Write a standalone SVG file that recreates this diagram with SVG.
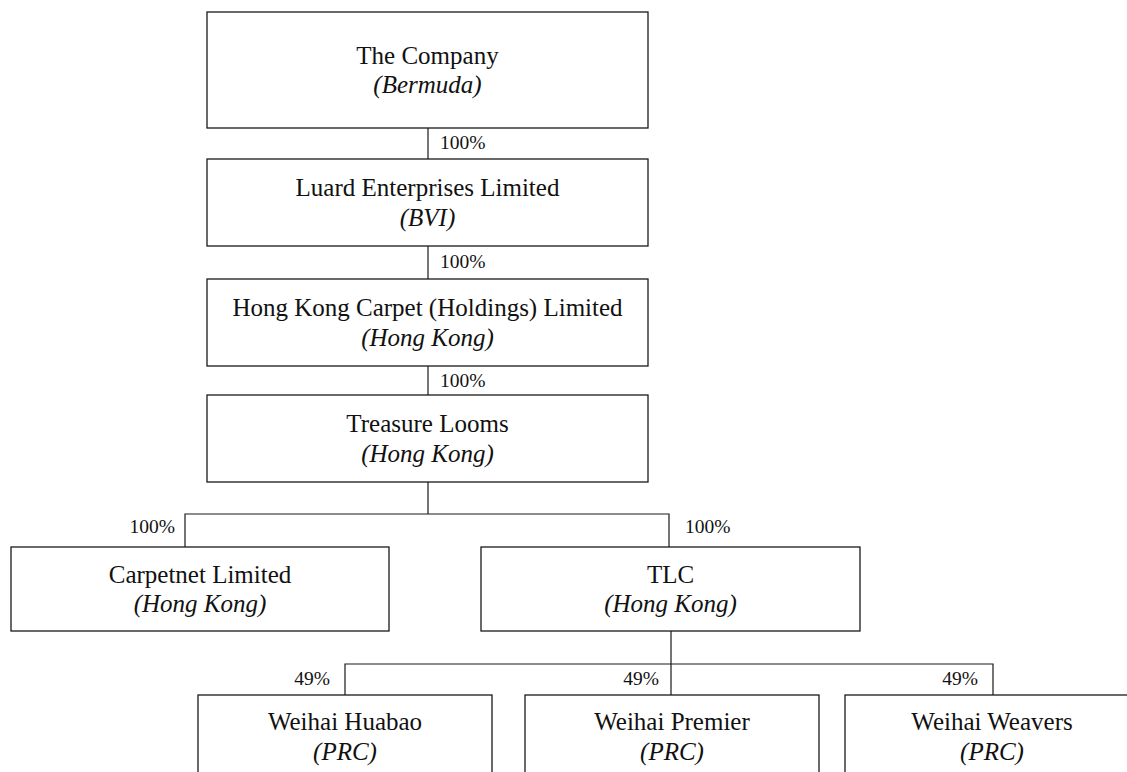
<svg xmlns="http://www.w3.org/2000/svg" width="1127" height="772" viewBox="0 0 1127 772">
<style>
.box{fill:#fff;stroke:#1a1a1a;stroke-width:1.3}
.name{font-family:"Liberation Serif","Times New Roman",serif;font-size:25px;fill:#111;text-anchor:middle}
.loc{font-family:"Liberation Serif","Times New Roman",serif;font-size:25px;font-style:italic;fill:#111;text-anchor:middle}
.pct{font-family:"Liberation Serif","Times New Roman",serif;font-size:19.5px;fill:#111}
.end{text-anchor:end}
.ln{fill:none;stroke:#1a1a1a;stroke-width:1.2}
</style>
<rect width="1127" height="772" fill="#fff"/>
<g id="connectors">
<path class="ln" d="M428,128V159"/>
<path class="ln" d="M428,246V279"/>
<path class="ln" d="M428,366V395"/>
<path class="ln" d="M428,482V514M185,547V514H669V547"/>
<path class="ln" d="M671,631V695M345,695V664H993V695"/>
<text class="pct" x="440" y="149">100%</text>
<text class="pct" x="440" y="268">100%</text>
<text class="pct" x="440" y="387">100%</text>
<text class="pct end" x="175" y="533">100%</text>
<text class="pct" x="685" y="533">100%</text>
<text class="pct end" x="330" y="685">49%</text>
<text class="pct end" x="659" y="685">49%</text>
<text class="pct end" x="978" y="685">49%</text>
</g>
<g id="company">
<rect class="box" x="207" y="12" width="441" height="116"/>
<text class="name" x="427.5" y="64">The Company</text>
<text class="loc" x="427.5" y="93">(Bermuda)</text>
</g>
<g id="luard">
<rect class="box" x="207" y="159" width="441" height="87"/>
<text class="name" x="427.5" y="196">Luard Enterprises Limited</text>
<text class="loc" x="427.5" y="226">(BVI)</text>
</g>
<g id="hkcarpet">
<rect class="box" x="207" y="279" width="441" height="87"/>
<text class="name" x="427.5" y="316">Hong Kong Carpet (Holdings) Limited</text>
<text class="loc" x="427.5" y="346">(Hong Kong)</text>
</g>
<g id="treasure">
<rect class="box" x="207" y="395" width="441" height="87"/>
<text class="name" x="427.5" y="432">Treasure Looms</text>
<text class="loc" x="427.5" y="462">(Hong Kong)</text>
</g>
<g id="carpetnet">
<rect class="box" x="11" y="547" width="378" height="84"/>
<text class="name" x="200" y="583">Carpetnet Limited</text>
<text class="loc" x="200" y="612">(Hong Kong)</text>
</g>
<g id="tlc">
<rect class="box" x="481" y="547" width="379" height="84"/>
<text class="name" x="670.5" y="583">TLC</text>
<text class="loc" x="670.5" y="612">(Hong Kong)</text>
</g>
<g id="huabao">
<rect class="box" x="198" y="695" width="294" height="84"/>
<text class="name" x="345" y="730">Weihai Huabao</text>
<text class="loc" x="345" y="760">(PRC)</text>
</g>
<g id="premier">
<rect class="box" x="525" y="695" width="294" height="84"/>
<text class="name" x="672" y="730">Weihai Premier</text>
<text class="loc" x="672" y="760">(PRC)</text>
</g>
<g id="weavers">
<rect class="box" x="845" y="695" width="294" height="84"/>
<text class="name" x="992" y="730">Weihai Weavers</text>
<text class="loc" x="992" y="760">(PRC)</text>
</g>
</svg>
